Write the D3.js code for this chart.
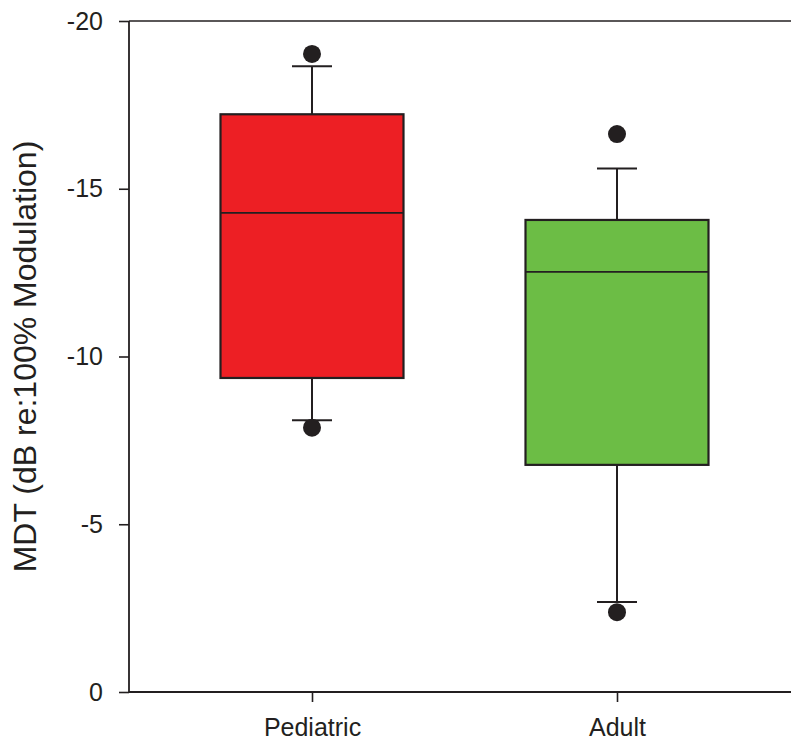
<!DOCTYPE html>
<html>
<head>
<meta charset="utf-8">
<script src="https://cdn.jsdelivr.net/npm/d3@7"></script>
<style>
  body { margin: 0; background: #fff; }
  svg text { font-family: "Liberation Sans", Arial, sans-serif; fill: #231f20; }
</style>
</head>
<body>
<svg id="chart" width="791" height="742"></svg>
<script>
// groups and box stats (dB re: 100% modulation)
const groups = ['Pediatric', 'Adult'];
const whiskerHigh = [-18.65, -15.6];
const q3 = [-17.22, -14.07];
const median = [-14.28, -12.52];
const q1 = [-9.36, -6.77];
const whiskerLow = [-8.1, -2.68];
const outliers = [[-19.02, -7.88], [-16.63, -2.38]];
const boxColors = ['#ed1f24', '#6cbd45'];
const yTicks = [-20, -15, -10, -5, 0];

const svg = d3.select('#chart');
const ink = '#231f20';

const margin = {left: 129, top: 21};
const size = 671;

const x = d3.scalePoint()
  .domain(groups)
  .range([margin.left, margin.left + size])
  .padding(0.6);

const y = d3.scaleLinear()
  .domain([-20, 0])
  .range([margin.top, margin.top + size]);

const boxW = x.step() * 0.6;
const capW = 40;

const stats = groups.map((g, i) => ({
  g: g, hi: whiskerHigh[i], q3: q3[i], med: median[i], q1: q1[i], lo: whiskerLow[i],
  out: outliers[i], color: boxColors[i]
}));

// frame: top line + bottom axis
svg.append('line')
  .attr('x1', margin.left).attr('x2', margin.left + size)
  .attr('y1', y(-20)).attr('y2', y(-20))
  .attr('stroke', ink).attr('stroke-width', 1.6);

const yAxis = svg.append('g')
  .attr('transform', `translate(${margin.left},0)`)
  .call(d3.axisLeft(y).tickValues(yTicks).tickSize(10).tickPadding(16).tickFormat(d => String(d)));

const xAxis = svg.append('g')
  .attr('transform', `translate(0,${y(0)})`)
  .call(d3.axisBottom(x).tickSize(10).tickPadding(16));

[yAxis, xAxis].forEach(a => {
  a.select('.domain').attr('stroke', ink).attr('stroke-width', 1.8);
  a.selectAll('.tick line').attr('stroke', ink).attr('stroke-width', 1.6);
  a.selectAll('.tick text').attr('fill', ink).style('font-size', '25px')
    .style('font-family', '"Liberation Sans", Arial, sans-serif');
});
yAxis.select('.domain').attr('d', `M0,${y(-20)}V${y(0)}`);
xAxis.select('.domain').attr('d', `M${margin.left},0H${margin.left + size}`);

// y-axis title
svg.append('text')
  .attr('transform', `translate(36,${y(-10)}) rotate(-90)`)
  .attr('text-anchor', 'middle')
  .style('font-size', '32px')
  .text('MDT (dB re:100% Modulation)');

const box = svg.selectAll('g.box')
  .data(stats)
  .join('g')
  .attr('class', 'box');

// whiskers
box.append('line')
  .attr('x1', d => x(d.g)).attr('x2', d => x(d.g))
  .attr('y1', d => y(d.hi)).attr('y2', d => y(d.q3))
  .attr('stroke', ink).attr('stroke-width', 2);
box.append('line')
  .attr('x1', d => x(d.g)).attr('x2', d => x(d.g))
  .attr('y1', d => y(d.q1)).attr('y2', d => y(d.lo))
  .attr('stroke', ink).attr('stroke-width', 2);
box.selectAll('line.cap')
  .data(d => [d.hi, d.lo].map(v => ({g: d.g, v: v})))
  .join('line')
  .attr('class', 'cap')
  .attr('x1', d => x(d.g) - capW / 2).attr('x2', d => x(d.g) + capW / 2)
  .attr('y1', d => y(d.v)).attr('y2', d => y(d.v))
  .attr('stroke', ink).attr('stroke-width', 2);

// boxes
box.append('rect')
  .attr('x', d => x(d.g) - boxW / 2)
  .attr('width', boxW)
  .attr('y', d => y(d.q3))
  .attr('height', d => y(d.q1) - y(d.q3))
  .attr('fill', d => d.color)
  .attr('stroke', ink).attr('stroke-width', 2.2);

box.append('line')
  .attr('x1', d => x(d.g) - boxW / 2).attr('x2', d => x(d.g) + boxW / 2)
  .attr('y1', d => y(d.med)).attr('y2', d => y(d.med))
  .attr('stroke', ink).attr('stroke-width', 1.8);

// outlier dots
box.selectAll('circle')
  .data(d => d.out.map(v => ({g: d.g, v: v})))
  .join('circle')
  .attr('cx', d => x(d.g))
  .attr('cy', d => y(d.v))
  .attr('r', 9)
  .attr('fill', ink);
</script>
</body>
</html>
